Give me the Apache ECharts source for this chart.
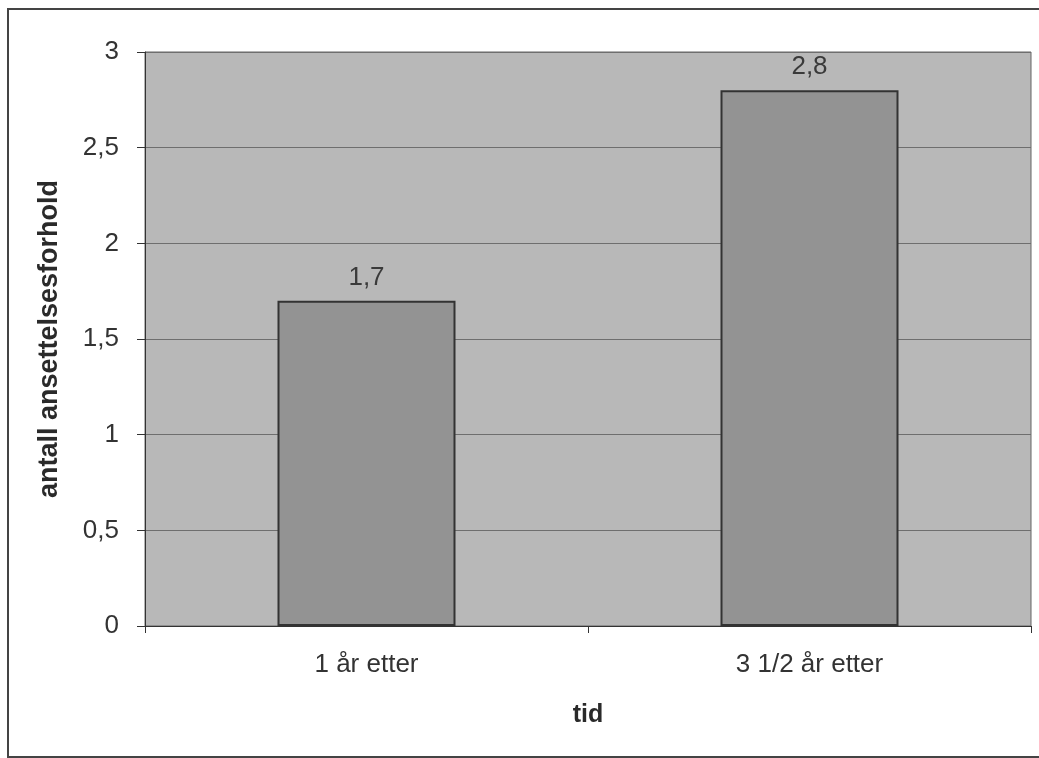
<!DOCTYPE html>
<html>
<head>
<meta charset="utf-8">
<script src="https://cdn.jsdelivr.net/npm/echarts@6/dist/echarts.min.js"></script>
<style>
  html, body { margin: 0; padding: 0; background: #fff; }
  #frame {
    position: absolute; left: 7px; top: 8px;
    width: 1040px; height: 750px;
    border: 2px solid #444; box-sizing: border-box;
  }
  #chart { position: absolute; left: 0; top: 0; width: 1039px; height: 758px; }
</style>
</head>
<body>
<div id="frame"></div>
<div id="chart"></div>
<script>
// data
const categories = ['1 år etter', '3 1/2 år etter']
const values = [1.7, 2.8]
const yTicks = [0, 0.5, 1, 1.5, 2, 2.5, 3]

const comma = v => String(v).replace('.', ',')

const chart = echarts.init(document.getElementById('chart'))

const option = {
  animation: false,
  textStyle: { fontFamily: 'Liberation Sans, Arial, sans-serif' },
  grid: {
    left: 145,
    right: 8,
    top: 52,
    bottom: 132,
    show: true,
    backgroundColor: '#b8b8b8',
    borderColor: '#666',
    borderWidth: 1
  },
  xAxis: {
    type: 'category',
    data: categories,
    name: 'tid',
    nameLocation: 'middle',
    nameGap: 77,
    nameTextStyle: { fontSize: 25, fontWeight: 'bold', color: '#2a2a2a' },
    axisLine: { lineStyle: { color: '#333', width: 1 } },
    axisTick: { show: true, length: 7, lineStyle: { color: '#333' } },
    axisLabel: { fontSize: 26, color: '#333', margin: 26 }
  },
  yAxis: {
    type: 'value',
    min: yTicks[0],
    max: yTicks[yTicks.length - 1],
    interval: 0.5,
    name: 'antall ansettelsesforhold',
    nameLocation: 'middle',
    nameGap: 82,
    nameTextStyle: { fontSize: 27, fontWeight: 'bold', color: '#2a2a2a' },
    axisLine: { show: true, lineStyle: { color: '#333', width: 1 } },
    axisTick: { show: true, length: 8, lineStyle: { color: '#333' } },
    axisLabel: { fontSize: 26, color: '#333', margin: 26, formatter: v => comma(v) },
    splitLine: { show: true, lineStyle: { color: '#6e6e6e', width: 1 } }
  },
  series: [
    {
      type: 'bar',
      data: values,
      barWidth: 178,
      itemStyle: { color: '#939393', borderColor: '#333', borderWidth: 2 },
      label: {
        show: true,
        position: 'top',
        distance: 10,
        fontSize: 26,
        color: '#3a3a3a',
        formatter: p => comma(p.value)
      }
    }
  ]
}

chart.setOption(option)
</script>
</body>
</html>
